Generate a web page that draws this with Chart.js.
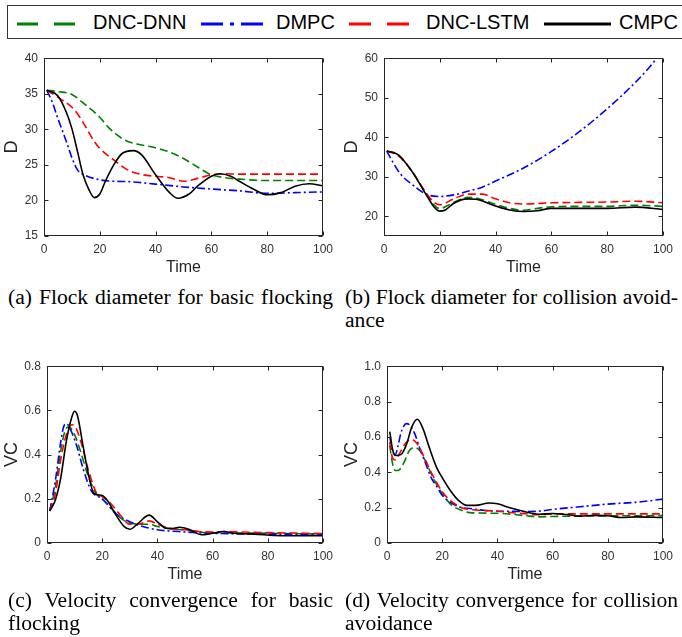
<!DOCTYPE html>
<html>
<head>
<meta charset="utf-8">
<script src="https://cdn.jsdelivr.net/npm/chart.js@4"></script>
<style>
  body { margin: 0; width: 682px; height: 637px; background: #fff; position: relative; overflow: hidden; }
  .panel { position: absolute; }
  .legend { position: absolute; left: 7px; top: 5px; width: 700px; height: 34px; border: 1px solid #333; box-sizing: border-box; }
  .legend span { position: absolute; top: 4px; font-family: "Liberation Sans", Arial, sans-serif; font-size: 20px; color: #000; line-height: 24px; }
  .legend svg { position: absolute; top: 14px; }
  .cap { position: absolute; font-family: "Liberation Serif", "Times New Roman", serif; font-size: 21.6px; line-height: 23px; color: #000; white-space: nowrap; }
  .just { text-align: justify; text-align-last: justify; white-space: normal; }
</style>
</head>
<body>

<div class="legend">
  <svg width="60" height="8" style="left:9px"><line x1="0" y1="4" x2="60" y2="4" stroke="#008000" stroke-width="3" stroke-dasharray="21 16"/></svg>
  <span style="left:85px">DNC-DNN</span>
  <svg width="66" height="8" style="left:193px"><line x1="0" y1="4" x2="66" y2="4" stroke="#0000ff" stroke-width="3" stroke-dasharray="22 7 4 7"/></svg>
  <span style="left:268px">DMPC</span>
  <svg width="60" height="8" style="left:341px"><line x1="0" y1="4" x2="60" y2="4" stroke="#ff0000" stroke-width="3" stroke-dasharray="22 16"/></svg>
  <span style="left:418px">DNC-LSTM</span>
  <svg width="67" height="8" style="left:536px"><line x1="0" y1="4" x2="67" y2="4" stroke="#000" stroke-width="3"/></svg>
  <span style="left:611px">CMPC</span>
</div>

<canvas id="pa" class="panel" style="left:0;top:45px" width="340" height="240"></canvas>
<canvas id="pb" class="panel" style="left:340px;top:45px" width="342" height="240"></canvas>
<canvas id="pc" class="panel" style="left:0;top:353px" width="340" height="239"></canvas>
<canvas id="pd" class="panel" style="left:340px;top:353px" width="342" height="239"></canvas>

<div class="cap just" style="left:8px;top:286px;width:325px">(a) Flock diameter for basic flocking</div>
<div class="cap just" style="left:345px;top:286px;width:333px">(b) Flock diameter for collision avoid-</div>
<div class="cap" style="left:345px;top:309px">ance</div>
<div class="cap just" style="left:8px;top:589px;width:325px">(c) Velocity convergence for basic</div>
<div class="cap" style="left:8px;top:612px">flocking</div>
<div class="cap just" style="left:345px;top:589px;width:333px">(d) Velocity convergence for collision</div>
<div class="cap" style="left:345px;top:612px">avoidance</div>

<script>
// (a) flock diameter, basic flocking  [time, D]
const diamBasicDnn = [[1,35.5],[5,35.3],[10,34.9],[15,33.4],[20,31.7],[23,30.3],[28,28.7],[30,28.3],[35,27.8],[40,27.4],[45,26.8],[50,25.9],[55,24.7],[60,23.6],[65,23.2],[70,23.0],[80,22.8],[90,22.8],[100,22.8]];
const diamBasicDmpc = [[1,35.5],[3,33.8],[5,31.5],[8,28.3],[10,26.0],[12,24.3],[15,23.5],[20,22.9],[25,22.7],[30,22.65],[40,22.3],[50,21.9],[60,21.6],[70,21.35],[80,21.0],[90,21.1],[100,21.2]];
const diamBasicLstm = [[1,35.5],[5,34.5],[10,33.1],[12,32.2],[15,30.3],[18,28.3],[20,27.3],[25,25.7],[30,24.3],[35,23.65],[40,23.4],[45,23.2],[50,22.7],[55,23.1],[60,23.6],[65,23.75],[70,23.7],[80,23.7],[100,23.7]];
const diamBasicCmpc = [[1,35.5],[5,34.7],[8,32.4],[10,30.1],[12,26.9],[14,23.6],[16,21.6],[18,20.4],[20,20.9],[22,22.7],[25,25.0],[28,26.6],[32,27.0],[35,26.4],[40,23.6],[45,21.1],[48,20.3],[52,20.9],[55,22.0],[60,23.4],[63,23.75],[67,23.4],[70,22.7],[75,21.6],[80,20.8],[85,21.1],[90,22.0],[95,22.35],[100,22.05]];

// (b) flock diameter, collision avoidance
const diamAvoidDnn = [[1,36.5],[5,35.6],[10,31.4],[15,25.8],[18,22.8],[20,21.9],[23,22.8],[27,24.2],[30,24.8],[33,24.6],[40,23.0],[45,22.0],[50,21.5],[55,22.0],[60,22.4],[70,22.5],[80,22.5],[90,22.8],[100,22.5]];
const diamAvoidDmpc = [[1,36.5],[3,33.9],[6,30.6],[10,28.1],[15,25.6],[20,25.0],[25,25.4],[30,26.3],[35,27.3],[40,28.9],[50,32.2],[60,36.4],[70,41.4],[80,47.2],[90,53.8],[95,57.6],[100,62.0]];
const diamAvoidLstm = [[1,36.5],[5,35.4],[10,31.4],[15,26.0],[18,23.5],[20,22.9],[25,24.4],[30,25.6],[35,25.6],[40,24.4],[45,23.4],[50,23.1],[60,23.4],[70,23.5],[80,23.6],[90,23.8],[100,23.4]];
const diamAvoidCmpc = [[1,36.5],[5,35.6],[10,31.4],[15,25.6],[18,22.3],[20,21.3],[22,21.6],[25,23.3],[30,24.4],[33,24.3],[40,22.6],[45,21.6],[50,21.2],[55,21.4],[60,22.0],[70,22.0],[80,22.0],[90,22.3],[100,21.7]];

// (c) velocity convergence, basic flocking
const vcBasicDnn = [[1,0.145],[3,0.25],[5,0.42],[7,0.52],[8,0.525],[10,0.49],[12,0.42],[15,0.3],[18,0.22],[20,0.2],[23,0.16],[27,0.11],[30,0.09],[35,0.085],[37,0.085],[40,0.075],[45,0.065],[50,0.058],[60,0.045],[70,0.045],[100,0.04]];
const vcBasicDmpc = [[1,0.145],[3,0.28],[5,0.46],[6,0.525],[7,0.54],[9,0.5],[11,0.43],[13,0.34],[16,0.237],[20,0.2],[25,0.133],[30,0.096],[35,0.074],[40,0.06],[50,0.05],[60,0.044],[70,0.041],[100,0.04]];
const vcBasicLstm = [[1,0.145],[3,0.22],[5,0.38],[7,0.49],[9,0.535],[10,0.53],[12,0.47],[15,0.33],[18,0.225],[20,0.21],[23,0.18],[27,0.12],[30,0.085],[33,0.085],[37,0.1],[40,0.085],[45,0.065],[50,0.06],[55,0.052],[60,0.05],[65,0.052],[70,0.05],[80,0.047],[100,0.043]];
const vcBasicCmpc = [[1,0.145],[3,0.193],[5,0.296],[7,0.46],[9,0.57],[10,0.596],[11,0.578],[13,0.444],[15,0.311],[17,0.225],[20,0.215],[22,0.19],[25,0.126],[28,0.074],[30,0.062],[33,0.089],[37,0.126],[40,0.096],[43,0.067],[45,0.065],[48,0.071],[52,0.059],[56,0.037],[60,0.044],[64,0.052],[68,0.044],[75,0.04],[85,0.033],[100,0.033]];

// (d) velocity convergence, collision avoidance
const vcAvoidDnn = [[1,0.55],[2,0.45],[3,0.41],[4,0.41],[6,0.45],[8,0.52],[10,0.54],[12,0.52],[14,0.46],[17,0.36],[20,0.28],[23,0.22],[27,0.185],[30,0.172],[40,0.168],[50,0.155],[55,0.148],[60,0.15],[70,0.152],[100,0.155]];
const vcAvoidDmpc = [[1,0.6],[2,0.52],[3,0.5],[4,0.55],[5,0.62],[6,0.66],[7,0.675],[8,0.67],[10,0.62],[12,0.53],[14,0.45],[16,0.37],[18,0.32],[20,0.27],[23,0.23],[27,0.2],[30,0.195],[35,0.185],[40,0.18],[45,0.18],[50,0.178],[55,0.18],[60,0.19],[70,0.205],[80,0.22],[90,0.23],[100,0.248]];
const vcAvoidLstm = [[1,0.57],[2,0.48],[3,0.47],[5,0.52],[7,0.57],[9,0.585],[11,0.56],[13,0.5],[16,0.4],[20,0.29],[23,0.24],[27,0.2],[30,0.19],[40,0.18],[50,0.165],[55,0.16],[60,0.165],[70,0.165],[100,0.165]];
const vcAvoidCmpc = [[1,0.63],[2,0.53],[3,0.495],[5,0.5],[7,0.555],[9,0.657],[11,0.7],[13,0.648],[15,0.555],[18,0.426],[20,0.37],[23,0.296],[26,0.24],[29,0.213],[32,0.213],[37,0.226],[40,0.222],[43,0.207],[47,0.189],[52,0.17],[55,0.163],[60,0.167],[65,0.161],[70,0.152],[75,0.156],[80,0.154],[85,0.144],[90,0.148],[100,0.144]];

const seriesNames = ['DNC-DNN', 'DMPC', 'DNC-LSTM', 'CMPC'];
const seriesColors = ['#008000', '#0000ff', '#ff0000', '#000000'];
const seriesDash = [[8, 4], [8, 3, 2, 3], [8, 4], []];
const timeTicks = [0, 20, 40, 60, 80, 100];

const axisColor = '#262626';

// box around plot area with inward ticks, matlab style
const frame = {
  id: 'frame',
  afterDatasetsDraw(chart) {
    const { ctx, chartArea: a, scales: { x, y } } = chart;
    const L = Math.round(a.left) + 0.5, R = Math.round(a.right) - 0.5;
    const T = Math.round(a.top) + 0.5, B = Math.round(a.bottom) - 0.5;
    ctx.save();
    ctx.strokeStyle = axisColor;
    ctx.lineWidth = 1;
    ctx.strokeRect(L, T, R - L, B - T);
    ctx.beginPath();
    x.ticks.forEach(t => {
      const px = Math.round(x.getPixelForValue(t.value)) + 0.5;
      ctx.moveTo(px, B); ctx.lineTo(px, B - 4);
      ctx.moveTo(px, T); ctx.lineTo(px, T + 4);
    });
    y.ticks.forEach(t => {
      const py = Math.round(y.getPixelForValue(t.value)) + 0.5;
      ctx.moveTo(L, py); ctx.lineTo(L + 4, py);
      ctx.moveTo(R, py); ctx.lineTo(R - 4, py);
    });
    ctx.stroke();
    ctx.restore();
  }
};

function makePanel(id, series, yLabel, yMin, yMax, yTicks, axisW, padRight) {
  const ctx = document.getElementById(id).getContext('2d');
  return new Chart(ctx, {
    type: 'line',
    data: {
      datasets: series.map((pts, i) => ({
        label: seriesNames[i],
        data: pts.map(([t, v]) => ({ x: t, y: v })),
        borderColor: seriesColors[i],
        borderDash: seriesDash[i],
        borderWidth: 1.6,
        pointRadius: 0,
        fill: false,
        tension: 0.4,
        cubicInterpolationMode: 'monotone',
        order: 3 - i
      }))
    },
    options: {
      responsive: false,
      animation: false,
      events: [],
      layout: { padding: { top: 10, right: padRight, left: 0, bottom: 0 } },
      plugins: { legend: { display: false }, tooltip: { enabled: false } },
      scales: {
        x: {
          type: 'linear',
          min: 0, max: 100,
          afterBuildTicks: s => { s.ticks = timeTicks.map(v => ({ value: v })); },
          afterFit: s => { s.height = 49; },
          grid: { display: false, drawTicks: false },
          border: { display: false },
          ticks: { padding: 6, color: '#333', font: { family: 'Liberation Sans', size: 12 }, maxRotation: 0 },
          title: { display: true, text: 'Time', color: axisColor, font: { family: 'Liberation Sans', size: 16 }, padding: { top: 0, bottom: 8 } }
        },
        y: {
          type: 'linear',
          min: yMin, max: yMax,
          afterBuildTicks: s => { s.ticks = yTicks.map(v => ({ value: v })); },
          afterFit: s => { s.width = axisW; },
          grid: { display: false, drawTicks: false },
          border: { display: false },
          ticks: { padding: 6, color: '#333', font: { family: 'Liberation Sans', size: 12 } },
          title: { display: true, text: yLabel, color: axisColor, font: { family: 'Liberation Sans', size: 18 }, padding: { top: 1, bottom: 0 } }
        }
      }
    },
    plugins: [frame]
  });
}

makePanel('pa', [diamBasicDnn, diamBasicDmpc, diamBasicLstm, diamBasicCmpc], 'D', 15, 40, [15, 20, 25, 30, 35, 40], 44, 17);
makePanel('pb', [diamAvoidDnn, diamAvoidDmpc, diamAvoidLstm, diamAvoidCmpc], 'D', 15, 60, [20, 30, 40, 50, 60], 44, 19);
makePanel('pc', [vcBasicDnn, vcBasicDmpc, vcBasicLstm, vcBasicCmpc], 'VC', 0, 0.8, [0, 0.2, 0.4, 0.6, 0.8], 47, 17);
makePanel('pd', [vcAvoidDnn, vcAvoidDmpc, vcAvoidLstm, vcAvoidCmpc], 'VC', 0, 1, [0, 0.2, 0.4, 0.6, 0.8, 1], 47, 19);
</script>
</body>
</html>
